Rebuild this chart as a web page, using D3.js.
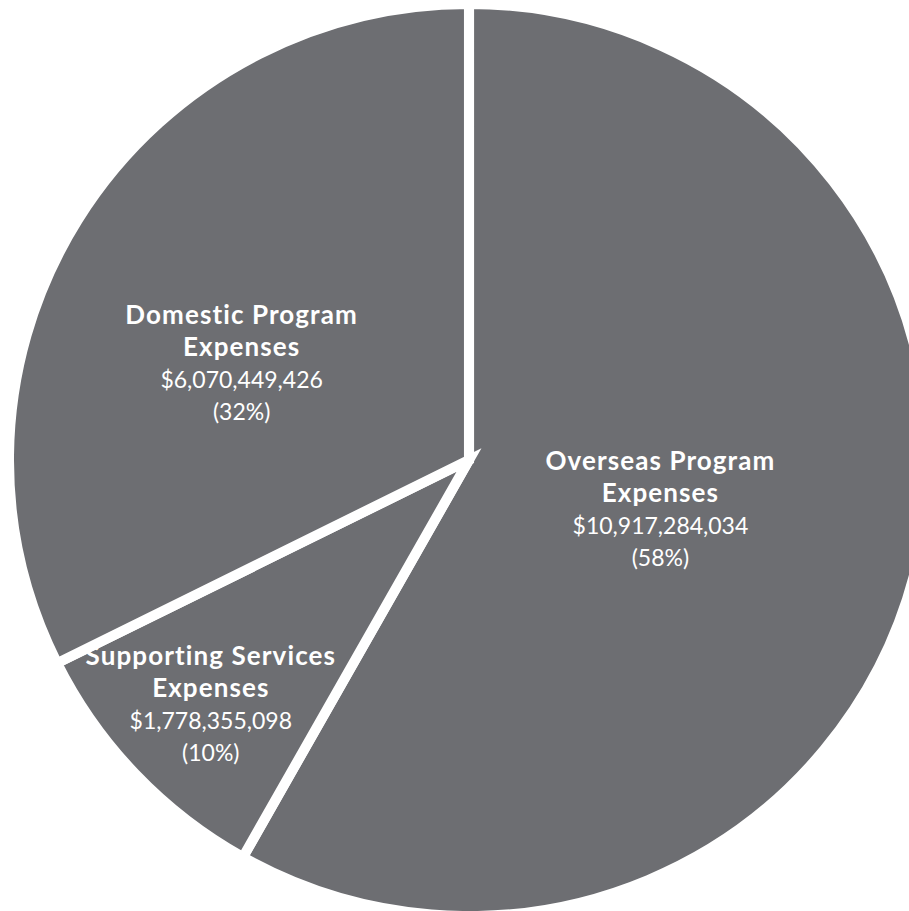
<!DOCTYPE html>
<html>
<head>
<meta charset="utf-8">
<script src="https://cdn.jsdelivr.net/npm/d3@7"></script>
<style>
  html, body { margin: 0; padding: 0; background: #ffffff; }
  svg { display: block; }
</style>
</head>
<body>
<svg id="chart" width="909" height="911"></svg>
<script>
// ---- data ----
const categories = ["Overseas Program Expenses", "Supporting Services Expenses", "Domestic Program Expenses"];
const values = [10917284034, 1778355098, 6070449426];
const percentLabels = ["58%", "10%", "32%"];

// ---- layout ----
const cx = 469, cy = 460;
const radius = 451;          // visible grey radius (vertical)
const xStretch = 455 / 451;  // slight horizontal stretch of the original pie
const gap = 10;              // white separator width
const sliceColor = "#6d6e72";
// label placement: fraction of radius along bisector, angle nudge (degrees)
const labelPlacement = [
  { rf: 0.435, da: 0 },
  { rf: 0.785, da: -0.2 },
  { rf: 0.543, da: -8.75 }
];
const lineStep = 32;

const svg = d3.select("#chart");
const g = svg.append("g").attr("transform", `translate(${cx},${cy})`);
const pieG = g.append("g").attr("transform", `scale(${xStretch},1)`);

const data = categories.map((c, i) => ({ name: c, value: values[i], pct: percentLabels[i], idx: i }));

const pie = d3.pie().sort(null).value(d => d.value);
const arcs = pie(data);
const arc = d3.arc().innerRadius(0).outerRadius(radius + gap / 2);

pieG.selectAll("path.slice")
  .data(arcs)
  .join("path")
  .attr("class", "slice")
  .attr("d", arc)
  .attr("fill", sliceColor)
  .attr("stroke", "#ffffff")
  .attr("stroke-width", gap)
  .attr("stroke-linejoin", "miter");

const fmt = d3.format("$,");

const labels = g.selectAll("g.label")
  .data(arcs)
  .join("g")
  .attr("class", "label")
  .attr("transform", d => {
    const p = labelPlacement[d.data.idx];
    const a = (d.startAngle + d.endAngle) / 2 + p.da * Math.PI / 180;
    const r = p.rf * radius;
    return `translate(${Math.sin(a) * r * xStretch},${-Math.cos(a) * r})`;
  });

labels.each(function(d) {
  const sel = d3.select(this);
  const words = d.data.name.split(" ");
  const line1 = words.slice(0, -1).join(" ");
  const line2 = words[words.length - 1];
  const lines = [
    { t: line1, bold: true },
    { t: line2, bold: true },
    { t: fmt(d.data.value), bold: false },
    { t: "(" + d.data.pct + ")", bold: false }
  ];
  sel.selectAll("text")
    .data(lines)
    .join("text")
    .attr("x", 0)
    .attr("y", (l, i) => -40 + i * lineStep)
    .attr("text-anchor", "middle")
    .attr("fill", "#ffffff")
    .attr("font-family", "Lato, 'Open Sans', sans-serif")
    .attr("font-weight", l => l.bold ? 700 : 400)
    .attr("font-size", l => l.bold ? 26 : 23)
    .attr("letter-spacing", l => l.bold ? 1.1 : 0)
    .text(l => l.t);
});
</script>
</body>
</html>
